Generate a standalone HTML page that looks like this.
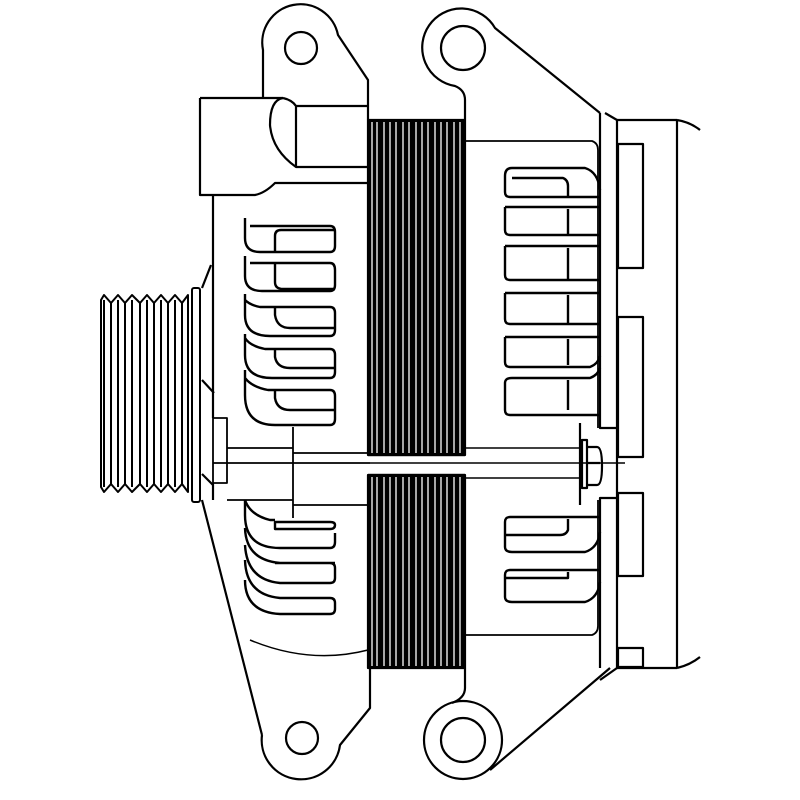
<!DOCTYPE html>
<html><head><meta charset="utf-8"><style>html,body{margin:0;padding:0;background:#fff}svg{display:block}</style></head>
<body>
<svg width="800" height="800" viewBox="0 0 800 800" xmlns="http://www.w3.org/2000/svg" fill="none" stroke="#000" stroke-width="2.2" stroke-linejoin="round">
<!-- top-left ear -->
<path d="M263,98 L263,50 A38,38 0 1 1 338,35 L368,80 L368,120"/>
<circle cx="301" cy="48" r="16"/>
<!-- top-right ear -->
<path d="M465,120 L465,100 Q465,90 455,86 A39,39 0 1 1 495,28 L600,113"/>
<circle cx="463" cy="48" r="22"/>
<!-- box -->
<path d="M200,98 L283,98 M200,98 L200,195 L255,195 Q265,193 275,183 L368,183"/>
<path d="M283,98 Q270,100 270,125 Q272,150 296,167 L368,167 M296,106 L368,106 M296,106 L296,167 M283,98 Q292,100 296,106"/>
<!-- left housing -->
<path d="M213,195 L213,418"/>
<path d="M211,265 L202,288 M202,500 L262,735"/>
<path d="M202,380 L214,393 M202,474 L213,485"/>
<!-- pulley -->
<g stroke-width="2">
<path d="M101,300 L104,295 L111,303 L118,295 L125,303 L132,295 L140,303 L147,295 L154,303 L161,295 L168,303 L175,295 L182,303 L188,295 L188,492 L182,484 L175,492 L168,484 L161,492 L154,484 L147,492 L140,484 L132,492 L125,484 L118,492 L111,484 L104,492 L101,487 Z"/>
<path d="M104,300 V487 M118,300 V487 M132,300 V487 M147,300 V487 M161,300 V487 M175,300 V487 M111,303 V484 M125,303 V484 M140,303 V484 M154,303 V484 M168,303 V484 M182,303 V484"/>
<rect x="192" y="288" width="8" height="214" rx="2"/>
</g>
<!-- shaft area -->
<path d="M213,418 L227,418 L227,483 L213,483 L213,418 M227,448 L293,448 M227,500 L293,500 M293,427 L293,518 M293,453 L370,453 M213,463 L370,463 M293,505 L370,505" stroke-width="1.8"/>
<path d="M213,483 L213,500"/>
<!-- left fins top -->
<g stroke-width="2.4">
<path d="M245,218 V238 Q245,252 260,252 L330,252 Q335,252 335,246 V232 Q335,226 330,226 L250,226"/>
<path d="M275,252 V236 Q275,230 281,230 L335,230"/>
<path d="M245,256 V276 Q245,291 262,291 L330,291 Q335,291 335,285 V270 Q335,263 330,263 L250,263"/>
<path d="M275,263 V282 Q275,289 283,289 L335,289"/>
<path d="M245,294 V315 Q245,336 270,336 L330,336 Q335,336 335,330 V313 Q335,307 330,307 L260,307 Q250,305 245,300"/>
<path d="M275,307 V315 Q277,328 290,328 L335,328"/>
<path d="M245,334 V355 Q245,378 272,378 L330,378 Q335,378 335,372 V355 Q335,349 330,349 L265,349 Q250,346 245,338"/>
<path d="M275,349 V357 Q277,368 290,368 L335,368"/>
<path d="M245,370 V395 Q245,425 275,425 L330,425 Q335,425 335,419 V396 Q335,390 330,390 L268,390 Q252,387 245,378"/>
<path d="M275,390 V398 Q277,410 290,410 L335,410"/>
</g>
<!-- left fins bottom -->
<g stroke-width="2.4">
<path d="M245,500 Q250,515 270,520 L275,520 M275,522 L330,522 Q335,522 335,525 Q335,529 330,529 L275,529 Z"/>
<path d="M245,500 V515 Q245,548 280,548 L330,548 Q335,548 335,542 V533"/>
<path d="M245,528 Q246,560 280,563 L335,563 M275,563 L330,563 Q335,563 335,568 V578 Q335,583 330,583 L280,583 Q247,580 245,545"/>
<path d="M245,560 Q246,595 280,598 L330,598 Q335,598 335,603 V609 Q335,614 330,614 L280,614 Q245,612 245,580"/>
</g>
<path d="M250,640 Q310,665 368,650" stroke-width="1.5"/>
<!-- bottom-left ear -->
<path d="M262,735 A38,38 0 1 0 340,745 L370,708 L370,668"/>
<circle cx="302" cy="738" r="16"/>
<!-- bottom-right ear -->
<circle cx="463" cy="740" r="39"/>
<path d="M465,668 L465,688 Q465,698 452,703"/>
<path d="M490,770 L610,668"/>
<circle cx="463" cy="740" r="22"/>
<!-- stator -->
<rect x="368" y="120" width="97" height="335" fill="#000"/>
<rect x="368" y="475" width="97" height="193" fill="#000"/>
<g stroke="#fff" stroke-width="1.3">
<path d="M372,122V453 M377,122V453 M384,122V453 M390,122V453 M396,122V453 M403,122V453 M409,122V453 M416,122V453 M422,122V453 M428,122V453 M435,122V453 M441,122V453 M447,122V453 M454,122V453 M460,122V453"/>
<path d="M372,477V666 M377,477V666 M384,477V666 M390,477V666 M396,477V666 M403,477V666 M409,477V666 M416,477V666 M422,477V666 M428,477V666 M435,477V666 M441,477V666 M447,477V666 M454,477V666 M460,477V666"/>
</g>
<path d="M368,455 L465,455 M368,475 L465,475"/>
<path d="M370,463 L465,463 M465,448 L580,448 M465,463 L625,463 M465,478 L580,478" stroke-width="1.4"/>
<!-- right housing -->
<path d="M465,141 L592,141 Q598,143 598,150 L598,428" stroke-width="1.8"/>
<path d="M465,635 L592,635 Q598,633 598,626 L598,500" stroke-width="1.8"/>
<path d="M600,113 L600,428 L617,428 M617,498 L600,498 L600,668"/>
<!-- right fins -->
<g stroke-width="2.4">
<path d="M505,176 Q505,168 512,168 L585,168 Q598,172 600,190"/>
<path d="M505,176 V192 Q505,197 510,197 L600,197 M512,178 L563,178 Q568,180 568,186 V197"/>
<path d="M505,207 L600,207 M505,207 V230 Q505,235 510,235 L600,235 M568,209 V235"/>
<path d="M505,246 L600,246 M505,246 V275 Q505,280 510,280 L600,280 M568,248 V280"/>
<path d="M505,293 L600,293 M505,293 V319 Q505,324 510,324 L600,324 M568,295 V324"/>
<path d="M505,337 L600,337 M505,337 V362 Q505,367 510,367 L590,367 Q598,364 600,356 M568,339 V365"/>
<path d="M505,383 Q505,378 512,378 L590,378 Q598,375 600,368 M505,383 V410 Q505,415 510,415 L600,415 M568,380 V410"/>
<path d="M505,522 Q505,517 510,517 L600,517 M505,522 V547 Q505,552 512,552 L585,552 Q598,548 600,532 M568,519 V530 Q566,535 560,535 L505,535"/>
<path d="M505,575 Q505,570 510,570 L600,570 M505,575 V597 Q505,602 512,602 L585,602 Q598,598 600,582 M568,572 V578 L505,578"/>
</g>
<!-- bolt -->
<path d="M580,423 L580,505 M582,440 L587,440 L587,488 L582,488 Z M587,447 L597,447 Q602,447 602,466 Q602,485 597,485 L587,485 M587,463 L600,463"/>
<!-- connector block -->
<path d="M617,120 L617,668 M617,120 L677,120 M617,668 L677,668 M677,120 L677,668 M677,120 Q690,122 700,130 M677,668 Q690,665 700,657"/>
<path d="M617,120 L605,113"/>
<rect x="618" y="144" width="25" height="124"/>
<rect x="618" y="317" width="25" height="140"/>
<rect x="618" y="493" width="25" height="83"/>
<rect x="618" y="648" width="25" height="19"/>
<path d="M617,668 L600,680"/>
</svg>
</body></html>
